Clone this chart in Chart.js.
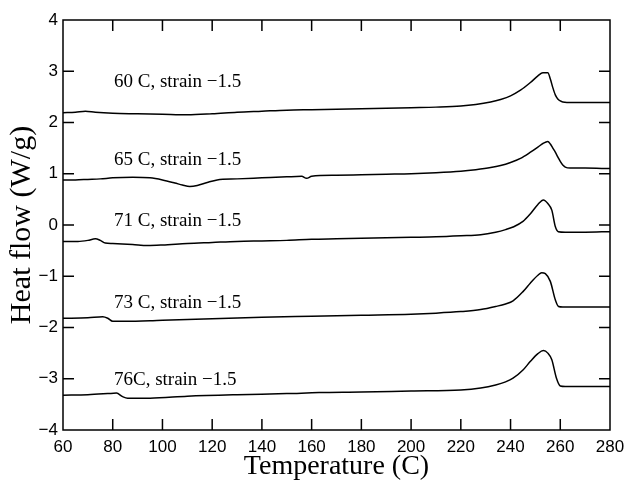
<!DOCTYPE html>
<html>
<head>
<meta charset="utf-8">
<script src="https://cdn.jsdelivr.net/npm/chart.js@4.4.1/dist/chart.umd.min.js"></script>
<style>
  html, body { margin: 0; padding: 0; background: #fff; }
  canvas { display: block; }
</style>
</head>
<body>
<canvas id="dscChart" width="627" height="482"></canvas>
<script>
// DSC traces, heat flow (W/g) against temperature (C)
var t60 = [60, 65, 69, 73, 80, 90, 100, 110, 120, 130, 140, 150, 160, 170, 180, 190, 200, 210, 220, 226, 232, 236, 240, 244, 248, 251, 253, 255, 256, 257, 258, 259, 260, 261, 265, 270, 280];
var hf60 = [2.19, 2.2, 2.22, 2.2, 2.18, 2.17, 2.16, 2.15, 2.17, 2.2, 2.22, 2.24, 2.25, 2.26, 2.27, 2.28, 2.29, 2.3, 2.32, 2.35, 2.4, 2.45, 2.52, 2.63, 2.78, 2.91, 2.97, 2.97, 2.85, 2.68, 2.54, 2.46, 2.42, 2.4, 2.39, 2.39, 2.39];

var t65 = [60, 65, 70, 75, 80, 88, 95, 100, 105, 108, 111, 114, 118, 122, 130, 140, 150, 156, 158, 160, 170, 180, 190, 200, 210, 220, 226, 232, 236, 240, 244, 248, 251, 253, 255, 256, 257, 258, 259, 260, 261, 262, 264, 270, 280];
var hf65 = [0.88, 0.88, 0.89, 0.9, 0.92, 0.93, 0.92, 0.88, 0.82, 0.78, 0.75, 0.77, 0.83, 0.88, 0.9, 0.92, 0.94, 0.95, 0.91, 0.95, 0.97, 0.98, 0.99, 1.0, 1.02, 1.05, 1.08, 1.12, 1.16, 1.22, 1.3, 1.42, 1.52, 1.59, 1.63, 1.58, 1.5, 1.42, 1.33, 1.24, 1.17, 1.13, 1.11, 1.11, 1.1];

var t71 = [60, 66, 70, 73, 75, 77, 80, 88, 94, 100, 110, 120, 130, 140, 150, 160, 170, 180, 190, 200, 210, 220, 228, 234, 238, 241, 245, 248, 251, 253.2, 255, 256.6, 258, 259.2, 262, 270, 280];
var hf71 = [-0.32, -0.32, -0.3, -0.27, -0.3, -0.35, -0.36, -0.38, -0.4, -0.39, -0.36, -0.34, -0.32, -0.31, -0.3, -0.28, -0.27, -0.26, -0.25, -0.24, -0.23, -0.21, -0.19, -0.14, -0.09, -0.04, 0.07, 0.22, 0.4, 0.49, 0.42, 0.29, -0.03, -0.13, -0.14, -0.14, -0.13];

var t73 = [60, 70, 76, 78, 80, 85, 95, 100, 120, 140, 160, 180, 200, 210, 220, 228, 234, 238, 241, 245, 248, 251, 252.5, 254, 256, 258, 259.3, 261, 265, 280];
var hf73 = [-1.82, -1.81, -1.79, -1.82, -1.88, -1.88, -1.87, -1.86, -1.83, -1.8, -1.78, -1.76, -1.74, -1.72, -1.69, -1.65, -1.59, -1.54, -1.48, -1.3, -1.13, -0.98, -0.93, -0.95, -1.1, -1.46, -1.59, -1.6, -1.6, -1.6];

var t76 = [60, 70, 78, 81.5, 84, 86, 95, 110, 130, 150, 163, 180, 200, 220, 228, 234, 238, 241, 245, 248, 251, 253.2, 255, 256.6, 258.4, 260, 262, 270, 280];
var hf76 = [-3.32, -3.31, -3.29, -3.28, -3.35, -3.38, -3.38, -3.34, -3.31, -3.29, -3.27, -3.26, -3.24, -3.22, -3.18, -3.12, -3.06, -2.99, -2.83, -2.66, -2.51, -2.45, -2.5, -2.63, -2.98, -3.14, -3.15, -3.15, -3.15];

// curve labels, placed in data units
var noteText = ['60 C, strain \u22121.5', '65 C, strain \u22121.5', '71 C, strain \u22121.5', '73 C, strain \u22121.5', '76C, strain \u22121.5'];
var noteX = [80.5, 80.5, 80.5, 80.5, 80.5];
var noteY = [2.79, 1.27, 0.08, -1.52, -3.02];

var xTicks = [60, 80, 100, 120, 140, 160, 180, 200, 220, 240, 260, 280];
var yTicks = [-4, -3, -2, -1, 0, 1, 2, 3, 4];

function toPoints(xs, ys) {
    var pts = [];
    for (var i = 0; i < xs.length; i++) {
        pts.push({ x: xs[i], y: ys[i] });
    }
    return pts;
}

function trace(xs, ys) {
    return {
        data: toPoints(xs, ys),
        borderColor: '#000',
        borderWidth: 1.5,
        pointRadius: 0,
        fill: false,
        cubicInterpolationMode: 'monotone'
    };
}

// frame with inward ticks on all four sides, plus the curve labels
var framePlugin = {
    id: 'frame',
    afterDraw: function (chart) {
        var ctx = chart.ctx;
        var a = chart.chartArea;
        var sx = chart.scales.x;
        var sy = chart.scales.y;
        ctx.save();
        ctx.strokeStyle = '#000';
        ctx.lineWidth = 1.5;
        ctx.strokeRect(a.left, a.top, a.right - a.left, a.bottom - a.top);
        ctx.beginPath();
        for (var i = 1; i < xTicks.length - 1; i++) {
            var px = sx.getPixelForValue(xTicks[i]);
            ctx.moveTo(px, a.bottom);
            ctx.lineTo(px, a.bottom - 11);
            ctx.moveTo(px, a.top);
            ctx.lineTo(px, a.top + 11);
        }
        for (var j = 1; j < yTicks.length - 1; j++) {
            var py = sy.getPixelForValue(yTicks[j]);
            ctx.moveTo(a.left, py);
            ctx.lineTo(a.left + 11, py);
            ctx.moveTo(a.right, py);
            ctx.lineTo(a.right - 11, py);
        }
        ctx.stroke();

        ctx.fillStyle = '#000';
        ctx.font = '19px "Liberation Serif", "Times New Roman", serif';
        ctx.textAlign = 'left';
        ctx.textBaseline = 'middle';
        for (var k = 0; k < noteText.length; k++) {
            ctx.fillText(noteText[k], sx.getPixelForValue(noteX[k]), sy.getPixelForValue(noteY[k]));
        }
        ctx.restore();
    }
};

// keep the plot box fixed: no extra room for overhanging tick labels
function noOverhang(s) {
    s.paddingLeft = 0;
    s.paddingRight = 0;
    s.paddingTop = 0;
    s.paddingBottom = 0;
}

var ctx = document.getElementById('dscChart').getContext('2d');
new Chart(ctx, {
    type: 'line',
    data: {
        datasets: [
            trace(t60, hf60),
            trace(t65, hf65),
            trace(t71, hf71),
            trace(t73, hf73),
            trace(t76, hf76)
        ]
    },
    options: {
        responsive: false,
        animation: false,
        layout: { padding: { top: 20, right: 17, left: 0, bottom: 0 } },
        plugins: {
            legend: { display: false },
            tooltip: { enabled: false }
        },
        scales: {
            x: {
                type: 'linear',
                min: 60,
                max: 280,
                afterBuildTicks: function (s) {
                    s.ticks = xTicks.map(function (v) { return { value: v }; });
                },
                afterFit: function (s) { s.height = 52; noOverhang(s); },
                grid: { display: false, drawTicks: false },
                border: { display: false },
                ticks: {
                    color: '#000',
                    padding: 7,
                    maxRotation: 0,
                    font: { family: '"Liberation Sans", Arial, sans-serif', size: 17 }
                },
                title: {
                    display: true,
                    text: 'Temperature (C)',
                    color: '#000',
                    padding: { top: 0, bottom: 1 },
                    font: { family: '"Liberation Serif", "Times New Roman", serif', size: 28, lineHeight: 1 }
                }
            },
            y: {
                min: -4,
                max: 4,
                afterBuildTicks: function (s) {
                    s.ticks = yTicks.map(function (v) { return { value: v }; });
                },
                afterFit: function (s) { s.width = 63; noOverhang(s); },
                grid: { display: false, drawTicks: false },
                border: { display: false },
                ticks: {
                    color: '#000',
                    padding: 5,
                    font: { family: '"Liberation Sans", Arial, sans-serif', size: 17 },
                    callback: function (v) { return String(v).replace('-', '\u2212'); }
                },
                title: {
                    display: true,
                    text: 'Heat flow (W/g)',
                    color: '#000',
                    padding: { top: 7, bottom: 0 },
                    font: { family: '"Liberation Serif", "Times New Roman", serif', size: 30, lineHeight: 1 }
                }
            }
        }
    },
    plugins: [framePlugin]
});
</script>
</body>
</html>
